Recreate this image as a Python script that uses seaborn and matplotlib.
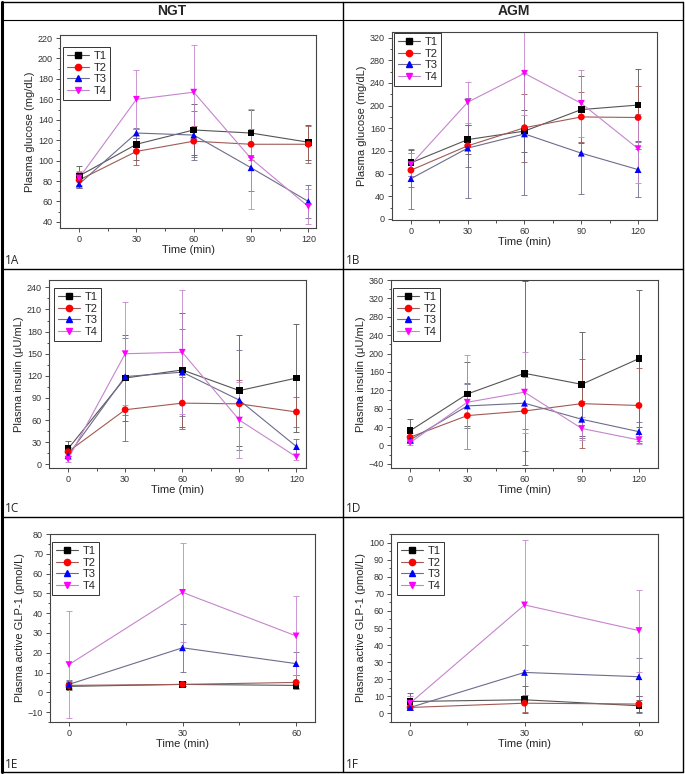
import matplotlib
matplotlib.use('Agg')
import matplotlib.pyplot as plt
from matplotlib.lines import Line2D
from matplotlib.ticker import AutoMinorLocator
import seaborn as sns
import pandas as pd

sns.set_style('ticks')
plt.rcParams['font.family'] = ['Liberation Sans', 'DejaVu Sans']

W, H = 685, 774

groups = ['T1', 'T2', 'T3', 'T4']
times_ogtt = [0, 30, 60, 90, 120]
times_glp = [0, 30, 60]

# 1A - NGT glucose
ngt_glu = {'T1': [85, 116, 130, 127, 118], 'T2': [81, 109, 119, 116, 116],
           'T3': [77, 127, 125, 93, 60], 'T4': [83, 160, 167, 102, 55]}
ngt_glu_sd = {'T1': [10, 15, 25, 23, 17], 'T2': [8, 13, 15, 15, 18],
              'T3': [4, 5, 24, 23, 16], 'T4': [7, 29, 46, 49, 17]}

# 1B - AGM glucose
agm_glu = {'T1': [99, 140, 155, 193, 201], 'T2': [86, 129, 161, 180, 179],
           'T3': [71, 125, 150, 116, 87], 'T4': [96, 206, 257, 204, 124]}
agm_glu_sd = {'T1': [23, 26, 37, 59, 64], 'T2': [30, 37, 60, 44, 55],
              'T3': [53, 89, 107, 72, 48], 'T4': [20, 36, 73, 59, 61]}

# 1C - NGT insulin
ngt_ins = {'T1': [21, 117, 128, 100, 117], 'T2': [17, 74, 83, 82, 71],
           'T3': [12, 119, 125, 87, 24], 'T4': [7, 150, 152, 60, 10]}
ngt_ins_sd = {'T1': [10, 58, 77, 75, 73], 'T2': [6, 43, 35, 32, 20],
              'T3': [5, 52, 59, 68, 10], 'T4': [4, 70, 84, 52, 4]}

# 1D - AGM insulin
agm_ins = {'T1': [32, 112, 157, 133, 189], 'T2': [18, 65, 75, 91, 87],
           'T3': [12, 86, 92, 57, 30], 'T4': [6, 94, 116, 37, 12]}
agm_ins_sd = {'T1': [26, 69, 200, 113, 149], 'T2': [10, 72, 88, 97, 81],
              'T3': [6, 47, 57, 40, 20], 'T4': [4, 102, 88, 25, 8]}

# 1E - NGT active GLP-1
ngt_glp = {'T1': [3, 4, 3.5], 'T2': [3.5, 4, 5],
           'T3': [4, 22.5, 14.5], 'T4': [14, 50.5, 28.5]}
ngt_glp_sd = {'T1': [2, 1, 1.5], 'T2': [2, 1, 3.5],
              'T3': [2, 12, 6], 'T4': [27, 25, 20]}

# 1F - AGM active GLP-1
agm_glp = {'T1': [7, 8, 4.5], 'T2': [3.5, 6, 5.5],
           'T3': [3.5, 24, 21.5], 'T4': [6, 63.5, 48.5]}
agm_glp_sd = {'T1': [5, 8, 3.5], 'T2': [1.5, 5, 5],
              'T3': [1, 16, 11], 'T4': [4, 38, 24]}

marker_colors = ['#000000', '#ff0000', '#0000ff', '#ff00ff']
line_colors = ['#555555', '#a05a55', '#6c6c8c', '#c585cc']
markers = ['s', 'o', '^', 'v']

fig = plt.figure(figsize=(W / 100, H / 100), dpi=100)


def px_rect(x0, y0, x1, y1):
    return [x0 / W, 1 - y1 / H, (x1 - x0) / W, (y1 - y0) / H]


def panel(rect, times, means, sds, ylim, yticks, xlim, ylabel, leg_xy):
    ax = fig.add_axes(px_rect(*rect))
    rows = []
    for g in groups:
        for t, v in zip(times, means[g]):
            rows.append({'time': t, 'value': v, 'group': g})
    df = pd.DataFrame(rows)
    for i, g in enumerate(groups):
        ax.errorbar(times, means[g], yerr=sds[g], color=line_colors[i], lw=0.8,
                    elinewidth=0.6, capsize=2, capthick=0.6, zorder=2)
    sns.scatterplot(data=df, x='time', y='value', hue='group', style='group',
                    palette=dict(zip(groups, marker_colors)),
                    markers=dict(zip(groups, markers)), s=24, linewidth=0,
                    legend=False, zorder=3, ax=ax)
    ax.set_xlim(*xlim)
    ax.set_ylim(*ylim)
    ax.set_xticks(times)
    ax.set_yticks(yticks)
    ax.xaxis.set_minor_locator(AutoMinorLocator(2))
    ax.yaxis.set_minor_locator(AutoMinorLocator(2))
    ax.tick_params(which='both', direction='out', top=False, right=False,
                   labelsize=6.5, width=0.6, colors='#333333', pad=2)
    ax.tick_params(which='major', length=3)
    ax.tick_params(which='minor', length=1.8)
    for sp in ax.spines.values():
        sp.set_color('#444444')
        sp.set_linewidth(0.8)
    ax.set_xlabel('Time (min)', fontsize=8, labelpad=1)
    ax.set_ylabel(ylabel, fontsize=8, labelpad=2)
    handles = [Line2D([0], [0], color=line_colors[i], lw=0.8, marker=markers[i],
                      markerfacecolor=marker_colors[i], markeredgecolor=marker_colors[i],
                      markersize=4.5) for i in range(4)]
    leg = ax.legend(handles, groups, loc='upper left',
                    bbox_to_anchor=(leg_xy[0] / W, 1 - leg_xy[1] / H),
                    bbox_transform=fig.transFigure, borderaxespad=0,
                    fontsize=8, frameon=True, fancybox=False, edgecolor='#333333',
                    framealpha=1, handlelength=2.0, handletextpad=0.4,
                    labelspacing=0.15, borderpad=0.35)
    leg.get_frame().set_linewidth(0.7)
    return ax


panel((60, 35, 316, 228), times_ogtt, ngt_glu, ngt_glu_sd, (34, 223),
      range(40, 221, 20), (-10, 124), 'Plasma glucose (mg/dL)', (63, 47))
panel((392, 32, 657, 220), times_ogtt, agm_glu, agm_glu_sd, (-2, 330),
      range(0, 321, 40), (-10, 130), 'Plasma glucose (mg/dL)', (394, 33))
panel((49, 280, 306, 468), times_ogtt, ngt_ins, ngt_ins_sd, (-5, 250),
      range(0, 241, 30), (-10, 125), 'Plasma insulin (μU/mL)', (54, 288))
panel((391, 280, 658, 468), times_ogtt, agm_ins, agm_ins_sd, (-49, 360),
      range(-40, 361, 40), (-10, 130), 'Plasma insulin (μU/mL)', (393, 288))
panel((50, 534, 315, 722), times_glp, ngt_glp, ngt_glp_sd, (-15, 80),
      range(-10, 81, 10), (-5, 65), 'Plasma active GLP-1 (pmol/L)', (52, 542))
panel((391, 534, 658, 722), times_glp, agm_glp, agm_glp_sd, (-5, 105),
      range(0, 101, 10), (-5, 65), 'Plasma active GLP-1 (pmol/L)', (397, 542))


# table frame
def hline(y, x0=2, x1=683, lw=1.0):
    fig.add_artist(Line2D([x0 / W, x1 / W], [1 - y / H, 1 - y / H],
                          transform=fig.transFigure, color='black', lw=lw))


def vline(x, y0=2, y1=772, lw=1.0):
    fig.add_artist(Line2D([x / W, x / W], [1 - y0 / H, 1 - y1 / H],
                          transform=fig.transFigure, color='black', lw=lw))


hline(2)
hline(20, lw=0.8)
hline(269)
hline(517)
hline(772)
vline(2, lw=2.2)
vline(343)
vline(683)

fig.text(172 / W, 1 - 11 / H, 'NGT', ha='center', va='center',
         fontsize=10, fontweight='bold')
fig.text(514 / W, 1 - 11 / H, 'AGM', ha='center', va='center',
         fontsize=10, fontweight='bold')

for lab, x, y in [('1A', 5, 261), ('1B', 346, 261), ('1C', 5, 508),
                  ('1D', 346, 508), ('1E', 5, 764), ('1F', 346, 764)]:
    fig.text(x / W, 1 - y / H, lab, ha='left', va='center', fontsize=8.5,
             family=['Open Sans', 'DejaVu Sans'])

fig.savefig('out.png', dpi=100)
